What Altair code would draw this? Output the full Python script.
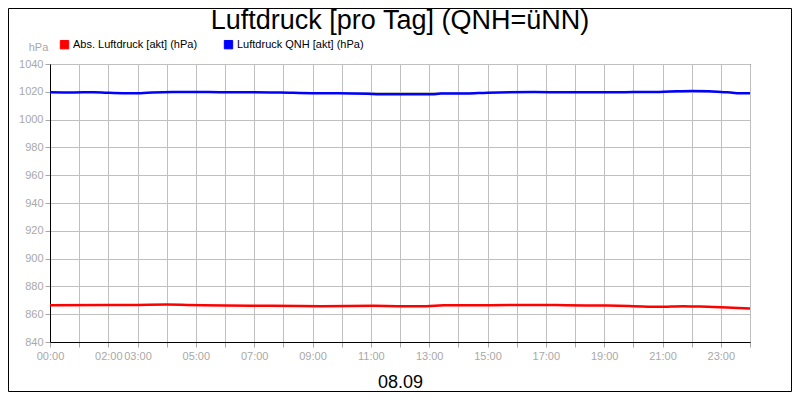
import altair as alt
import pandas as pd

# Hours of the day
hours_qnh = [0, 0.8, 1.5, 1.95, 2.5, 3.1, 3.5, 4.2, 5, 5.9, 7, 7.9, 9, 9.9, 10.9, 11.3, 12,
             13.1, 13.4, 14.3, 15, 16.6, 17.7, 19.1, 20, 20.9, 21.5, 22, 22.6, 23.1, 23.4, 23.6, 24]
qnh = [1019.7, 1019.5, 1019.7, 1019.3, 1019.0, 1019.0, 1019.5, 1019.9, 1019.9, 1019.7, 1019.7,
       1019.5, 1019.0, 1019.0, 1018.6, 1018.3, 1018.3,
       1018.3, 1018.7, 1018.8, 1019.4, 1019.8, 1019.7, 1019.7, 1019.8, 1019.9, 1020.4, 1020.6,
       1020.4, 1019.7, 1019.4, 1019.0, 1019.0]

hours_abs = [0, 1.9, 3, 4, 4.7, 6, 7.6, 9.3, 11.1, 12, 12.9, 13.5, 15.1, 16.8, 17.7, 19.1, 20,
             20.9, 21.7, 22.3, 23, 23.4, 24]
abs_p = [866.5, 866.6, 866.7, 866.9, 866.7, 866.2, 866.0, 865.8, 866.0, 865.8, 865.8, 866.5,
         866.5, 866.7, 866.4, 866.2, 865.8, 865.3, 865.8, 865.5, 865.0, 864.6, 864.1]

series_names = ["Abs. Luftdruck [akt] (hPa)", "Luftdruck QNH [akt] (hPa)"]
series_colors = ["#ff0000", "#0000ff"]

x_ticks = list(range(0, 25))
labelled_hours = [0, 2, 3, 5, 7, 9, 11, 13, 15, 17, 19, 21, 23]
y_ticks = list(range(840, 1041, 20))

df = pd.concat([
    pd.DataFrame({"h": hours_abs, "v": abs_p, "s": series_names[0]}),
    pd.DataFrame({"h": hours_qnh, "v": qnh, "s": series_names[1]}),
])

FONT = "Liberation Sans"
GRAY = "#a8a8a8"

label_expr = ("indexof(" + str(labelled_hours) + ", datum.value) >= 0 ? "
              "(datum.value < 10 ? '0' : '') + datum.value + ':00' : ''")

x_enc = alt.X("h:Q", scale=alt.Scale(domain=[0, 24], nice=False, zero=False),
              axis=alt.Axis(values=x_ticks, labelExpr=label_expr, title="08.09",
                            titleFontSize=18, titleColor="black", titleFontWeight="normal",
                            titlePadding=12, labelColor=GRAY, labelFontSize=11,
                            labelPadding=3, tickSize=5, tickColor=GRAY, domainColor="black",
                            gridColor="#c0c0c0", labelOverlap=False, labelFlush=False))
y_enc = alt.Y("v:Q", scale=alt.Scale(domain=[840, 1040], nice=False, zero=False),
              axis=alt.Axis(values=y_ticks, format="d", title="hPa", titleAngle=0,
                            titleX=-12, titleY=-17,
                            titleAlign="center", titleBaseline="middle", titleColor=GRAY,
                            titleFontSize=11, titleFontWeight="normal",
                            labelColor=GRAY, labelFontSize=11, labelPadding=2, tickSize=5,
                            tickColor=GRAY, domainColor="black", gridColor="#c0c0c0"))

legend = alt.Legend(orient="none", legendX=9, legendY=-25, direction="horizontal",
                    title=None, symbolType="square", symbolSize=70, symbolOpacity=1,
                    labelFontSize=11, labelColor="black", labelOffset=3,
                    columnPadding=24, labelLimit=300,
                    symbolStrokeColor="black", symbolStrokeWidth=1)
color_scale = alt.Scale(domain=series_names, range=series_colors)

lines = alt.Chart(df).mark_line(strokeWidth=2.5, interpolate="monotone").encode(
    x=x_enc, y=y_enc,
    stroke=alt.Stroke("s:N", scale=color_scale, legend=legend),
)

legend_layer = alt.Chart(df).mark_square(opacity=0, filled=True).encode(
    x=x_enc, y=y_enc,
    fill=alt.Fill("s:N", scale=color_scale, legend=legend),
)

border = alt.Chart(pd.DataFrame({"a": [0]})).mark_rect(
    fill=None, stroke="black", strokeWidth=1).encode(
    x=alt.value(-41.5), x2=alt.value(741.5), y=alt.value(-55.5), y2=alt.value(327.5))

chart = alt.layer(lines, legend_layer, border).properties(
    width=700, height=278,
    autosize=alt.AutoSizeParams(type="none"),
    padding={"left": 42, "top": 56, "right": 42, "bottom": 50},
    title=alt.TitleParams("Luftdruck [pro Tag] (QNH=üNN)", fontSize=27, fontWeight="normal",
                          anchor="middle", frame="group", offset=-48,
                          baseline="alphabetic", color="black", font=FONT),
).configure(font=FONT, background="white").configure_view(
    stroke="black", strokeWidth=1
)

chart.save("out.html", embed_options={"renderer": "svg", "actions": False})
